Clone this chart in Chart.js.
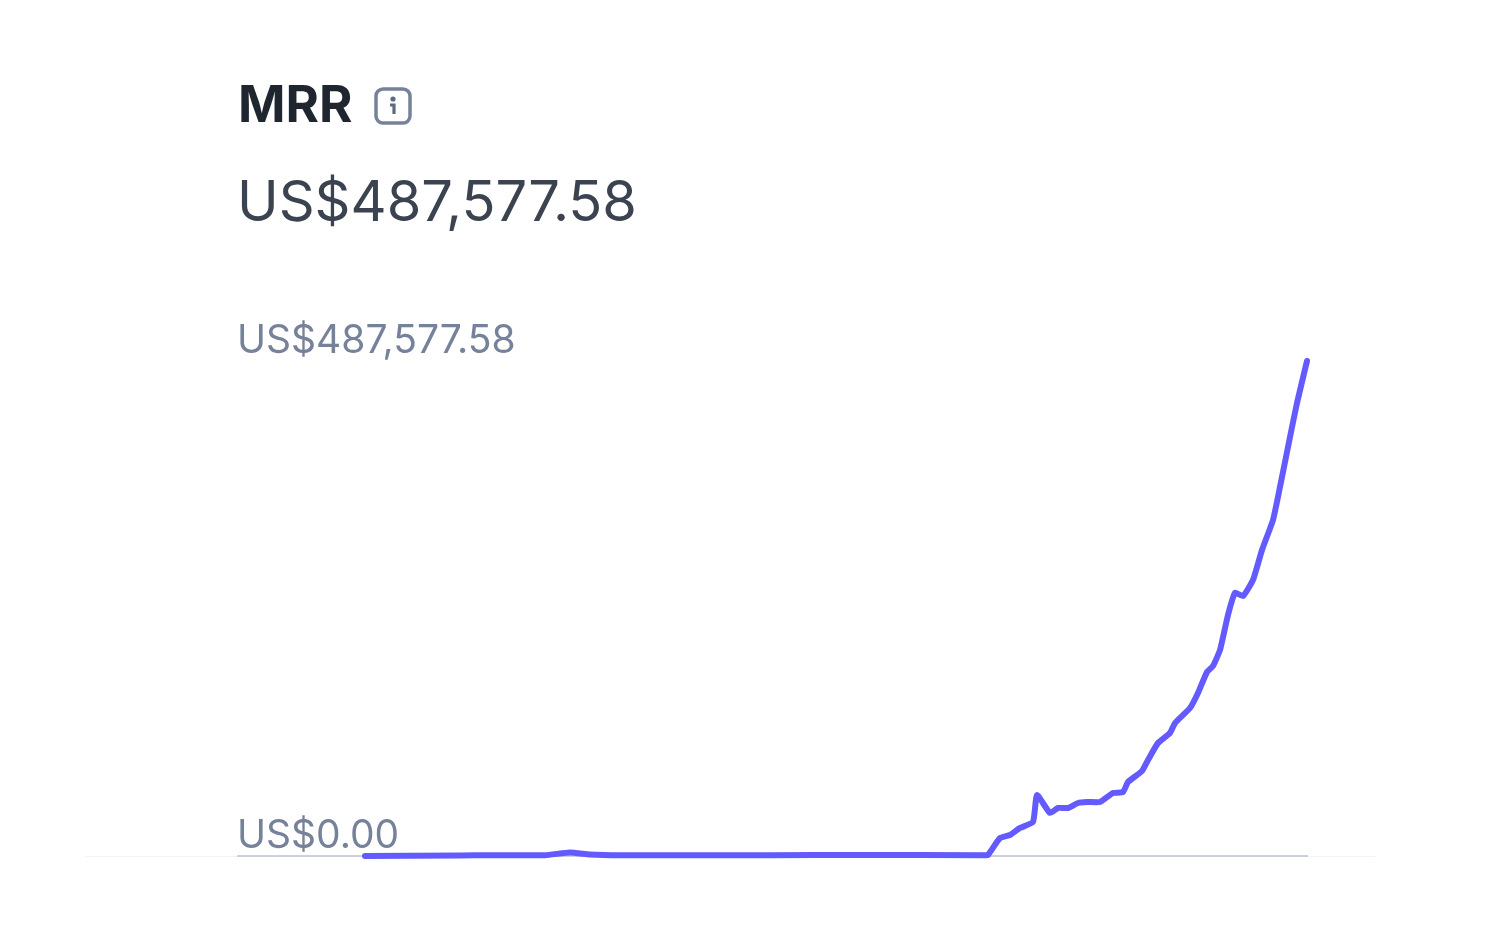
<!DOCTYPE html>
<html>
<head>
<meta charset="utf-8">
<title>MRR</title>
<script src="https://cdn.jsdelivr.net/npm/chart.js@4"></script>
<style>
    html, body { margin: 0; padding: 0; background: #fff; }
    body { width: 1498px; height: 948px; position: relative; overflow: hidden; font-family: Inter, sans-serif; }
    #title { position: absolute; left: 238px; top: 74px; font-size: 51px; line-height: 60px; font-weight: 700; color: #1f2630; }
    #info { position: absolute; left: 374px; top: 87px; }
    #total { position: absolute; left: 237px; top: 167px; font-size: 56px; line-height: 68px; font-weight: 400; color: #3c4350; }
    #wrap { position: absolute; left: 85px; top: 300px; width: 1290px; height: 560px; }
</style>
</head>
<body>
<div id="title">MRR</div>
<svg id="info" width="38" height="38" viewBox="0 0 38 38">
    <rect x="2" y="2" width="34" height="34" rx="7" fill="none" stroke="#76829a" stroke-width="3.5"/>
    <circle cx="19" cy="12" r="2.6" fill="#5d6a80"/>
    <path d="M16 18h4v9" fill="none" stroke="#5d6a80" stroke-width="3.2"/>
</svg>
<div id="total">US$487,577.58</div>
<div id="wrap"><canvas id="chart"></canvas></div>

<script>
    var days = [140, 187.5, 202.5, 230, 242.5, 252.5, 267.5, 342.5, 387.5, 450, 451.5, 457.5, 462.5, 467.5, 474, 476,
        482.5, 486.5, 491.5, 496.5, 501, 507.5, 514, 519, 521.5, 528.5, 531.5, 536.5, 542.5, 545, 552.5, 556.5,
        561, 564, 567.5, 571.5, 575, 579, 584, 588.5, 594, 597.5, 602.5, 606, 611];
    var mrr = [0, 500, 800, 800, 3500, 1500, 800, 800, 1000, 800, 1000, 17700, 20700, 27600, 33500, 60000,
        42400, 47300, 47300, 52200, 53200, 53200, 62000, 63000, 72900, 83700, 94600, 111300, 121200, 131000, 145800, 160600,
        181200, 187200, 202900, 237400, 259100, 256100, 271900, 301400, 331000, 363500, 412700, 446200, 487577.58];
    var axisDays = [76, 611.5];
    var axisValues = [0, 0];
    var yTicks = [0, 487577.58];
    var yLabels = ['US$0.00', 'US$487,577.58'];

    var points = days.map(function(d, i) { return { x: d, y: mrr[i] }; });
    var axisPoints = axisDays.map(function(d, i) { return { x: d, y: axisValues[i] }; });

    new Chart(document.getElementById('chart'), {
        type: 'line',
        data: {
            datasets: [
                {
                    label: 'MRR',
                    data: points,
                    borderColor: '#635bff',
                    borderWidth: 6,
                    borderCapStyle: 'round',
                    borderJoinStyle: 'round',
                    pointRadius: 0,
                    tension: 0.15,
                    clip: false,
                    order: 1
                },
                {
                    label: 'axis',
                    data: axisPoints,
                    borderColor: '#bcc2d0',
                    borderWidth: 1.5,
                    pointRadius: 0,
                    clip: false,
                    order: 2
                }
            ]
        },
        options: {
            responsive: true,
            maintainAspectRatio: false,
            animation: false,
            layout: { padding: { left: 0, right: 0, top: 0, bottom: 4 } },
            plugins: { legend: { display: false }, tooltip: { enabled: false } },
            scales: {
                x: {
                    type: 'linear',
                    min: 0,
                    max: 645,
                    grid: { display: false, drawTicks: false },
                    border: { display: true, color: '#f3f4f6', width: 1 },
                    ticks: { display: false },
                    afterFit: function(scale) { scale.height = 0; }
                },
                y: {
                    min: 0,
                    max: 547660,
                    grid: { display: false, drawTicks: false },
                    border: { display: false },
                    afterBuildTicks: function(scale) {
                        scale.ticks = yTicks.map(function(v) { return { value: v }; });
                    },
                    // the big tick padding would otherwise shrink the plot area
                    afterFit: function(scale) {
                        scale.width = 0;
                        scale.paddingTop = 0;
                        scale.paddingBottom = 0;
                    },
                    ticks: {
                        mirror: true,
                        padding: 152,
                        labelOffset: -20,
                        autoSkip: false,
                        color: '#76829a',
                        font: { family: 'Inter', size: 39 },
                        callback: function(value) { return yLabels[yTicks.indexOf(value)]; }
                    }
                }
            }
        }
    });
</script>
</body>
</html>
